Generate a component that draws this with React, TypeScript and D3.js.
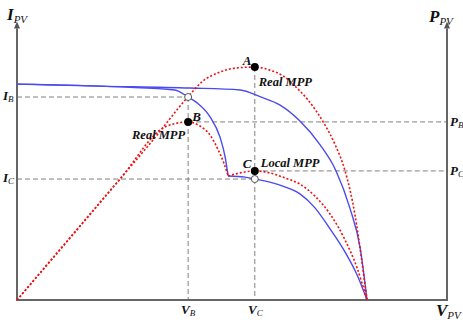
import React from 'react';
import * as d3 from 'd3';

const W = 463;
const H = 322;

// I-V curve, uniform irradiance
const iv1V = [0, 19.3, 40.2, 51.9, 56.5, 61.2, 65.8, 70.5, 74.2, 77.4, 79.8, 81.4];
const iv1I = [77.1, 76.4, 75.7, 75.0, 72.6, 69.6, 63.9, 55.4, 46.1, 32.9, 18.6, 0];

// I-V curve, partial shading (two segments)
const iv2aV = [0, 24.0, 36.7, 39.8, 41.9, 44.9, 47.2, 48.4, 49.1];
const iv2aI = [77.1, 76.1, 75.0, 72.5, 70.4, 65.4, 58.2, 51.1, 44.3];
const iv2bV = [49.1, 53.0, 55.3, 58.8, 62.3, 65.8, 69.3, 72.8, 76.3, 79.1, 81.4];
const iv2bI = [44.3, 43.9, 43.2, 42.1, 40.4, 37.9, 32.9, 25.4, 17.1, 8.9, 0];

// P-V curve, uniform irradiance
const pv1V = [0, 10.0, 23.95, 31.6, 39.5, 43.0, 47.2, 51.2, 55.3, 58.8, 61.9, 65.1, 67.7, 71.2, 74.0, 76.3, 78.6, 80.0, 81.4];
const pv1P = [0, 17.9, 43.2, 57.1, 72.1, 77.9, 81.4, 82.9, 83.2, 82.1, 80.0, 75.7, 71.4, 63.6, 55.4, 46.1, 30.4, 16.1, 0];

// P-V curve, partial shading (two humps)
const pv2aV = [0, 23.95, 34.4, 36.7, 39.8, 42.6, 44.9, 46.7, 48.1, 49.1];
const pv2aP = [0, 43.2, 61.8, 63.0, 63.6, 62.1, 58.9, 53.9, 48.9, 44.3];
const pv2bV = [49.1, 51.9, 55.3, 58.8, 62.3, 65.8, 69.3, 72.8, 76.3, 79.1, 81.4];
const pv2bP = [44.3, 45.4, 46.1, 45.4, 43.6, 41.4, 37.1, 30.7, 21.4, 11.4, 0];

// key operating values
const VB = 39.8;
const VC = 55.3;
const IB = 72.5;
const IC = 43.2;
const PA = 83.2;
const PB = 63.6;
const PC = 46.1;
const VMAX = 100;
const YMAX = 99.5;

const zip = (a: number[], b: number[]): [number, number][] => a.map((v, i) => [v, b[i]]);

const FONT = '"Liberation Serif", "Times New Roman", serif';

function Sub({ x, y, main, sub, size, subSize, anchor }: { x: number; y: number; main: string; sub: string; size: number; subSize: number; anchor?: string }) {
  return (
    <text x={x} y={y} fontFamily={FONT} fontStyle="italic" textAnchor={anchor || 'start'} fill="#111">
      <tspan fontSize={size} fontWeight="bold">{main}</tspan>
      <tspan fontSize={subSize} dy={size * 0.15}>{sub}</tspan>
    </text>
  );
}

export default function App() {
  const x = d3.scaleLinear().domain([0, VMAX]).range([17, 447]);
  const y = d3.scaleLinear().domain([0, 100]).range([300, 20]);
  const line = d3
    .line<[number, number]>()
    .x((d) => x(d[0]))
    .y((d) => y(d[1]))
    .curve(d3.curveMonotoneX);

  const x0 = x(0);
  const xr = x(VMAX);
  const y0 = y(0);
  const yt = y(YMAX);
  const ah = 7;
  const aw = 3;

  const blue = '#4a4af0';
  const red = '#f01010';
  const grey = '#808080';

  const dashed = { stroke: grey, strokeWidth: 1, strokeDasharray: '5,3', fill: 'none' };

  return (
    <svg width={W} height={H} style={{ position: 'absolute', left: 0, top: 0, background: '#fff' }}>
      {/* dashed guide lines */}
      <line x1={x0} x2={x(VB)} y1={y(IB)} y2={y(IB)} style={dashed} />
      <line x1={x(VB)} x2={x(VB)} y1={y(IB)} y2={y0} style={dashed} />
      <line x1={x(VB)} x2={xr} y1={y(PB)} y2={y(PB)} style={dashed} />
      <line x1={x0} x2={x(VC)} y1={y(IC)} y2={y(IC)} style={dashed} />
      <line x1={x(VC)} x2={xr} y1={y(PC)} y2={y(PC)} style={dashed} />
      <line x1={x(VC)} x2={x(VC)} y1={y(PA)} y2={y0} style={dashed} />

      {/* axes */}
      <g stroke="#666" strokeWidth={2} fill="none">
        <line x1={x0} x2={x0} y1={y0} y2={yt + ah} />
        <line x1={xr} x2={xr} y1={y0} y2={yt + ah} />
        <line x1={x0 - 1} x2={xr + 1} y1={y0} y2={y0} />
      </g>
      <polygon points={`${x0},${yt} ${x0 - aw},${yt + ah} ${x0 + aw},${yt + ah}`} fill="#555" />
      <polygon points={`${xr},${yt} ${xr - aw},${yt + ah} ${xr + aw},${yt + ah}`} fill="#555" />

      {/* curves */}
      <g fill="none">
        <path d={line(zip(iv1V, iv1I)) || ''} stroke={blue} strokeWidth={1.4} />
        <path d={line(zip(iv2aV, iv2aI)) || ''} stroke={blue} strokeWidth={1.4} />
        <path d={line(zip(iv2bV, iv2bI)) || ''} stroke={blue} strokeWidth={1.4} />
        <path d={line(zip(pv1V, pv1P)) || ''} stroke={red} strokeWidth={1.6} strokeDasharray="2,2" />
        <path d={line(zip(pv2aV, pv2aP)) || ''} stroke={red} strokeWidth={1.6} strokeDasharray="2,2" />
        <path d={line(zip(pv2bV, pv2bP)) || ''} stroke={red} strokeWidth={1.6} strokeDasharray="2,2" />
      </g>

      {/* points */}
      <circle cx={x(VB)} cy={y(IB)} r={3.5} fill="#fff" stroke="#555" strokeWidth={1} />
      <circle cx={x(VC)} cy={y(IC)} r={3.5} fill="#fff" stroke="#555" strokeWidth={1} />
      <circle cx={x(VC)} cy={y(PA)} r={4} fill="#000" />
      <circle cx={x(VB)} cy={y(PB)} r={4} fill="#000" />
      <circle cx={x(VC)} cy={y(PC)} r={4} fill="#000" />

      {/* point labels */}
      <g fontFamily={FONT} fontStyle="italic" fontWeight="bold" fill="#111">
        <text x={x(VC) - 12} y={y(PA) - 2} fontSize={13}>A</text>
        <text x={x(VC) + 4} y={y(PA) + 19} fontSize={12.5}>Real MPP</text>
        <text x={x(VB) + 4} y={y(PB) - 1} fontSize={13}>B</text>
        <text x={x(VB) - 3} y={y(PB) + 17} fontSize={12.5} textAnchor="end">Real MPP</text>
        <text x={x(VC) - 12} y={y(PC) - 3} fontSize={13}>C</text>
        <text x={x(VC) + 6} y={y(PC) - 4} fontSize={12.5}>Local MPP</text>
      </g>

      {/* axis labels */}
      <Sub x={7} y={20} main="I" sub="PV" size={17} subSize={11} />
      <Sub x={429} y={22} main="P" sub="PV" size={17} subSize={11} />
      <Sub x={436} y={316} main="V" sub="PV" size={17} subSize={11} />
      <Sub x={3} y={y(IB) + 3} main="I" sub="B" size={13} subSize={9} />
      <Sub x={3} y={y(IC) + 3} main="I" sub="C" size={13} subSize={9} />
      <Sub x={450} y={y(PB) + 4} main="P" sub="B" size={13} subSize={9} />
      <Sub x={450} y={y(PC) + 4} main="P" sub="C" size={13} subSize={9} />
      <Sub x={181} y={314} main="V" sub="B" size={13} subSize={9} />
      <Sub x={248} y={314} main="V" sub="C" size={13} subSize={9} />
    </svg>
  );
}
